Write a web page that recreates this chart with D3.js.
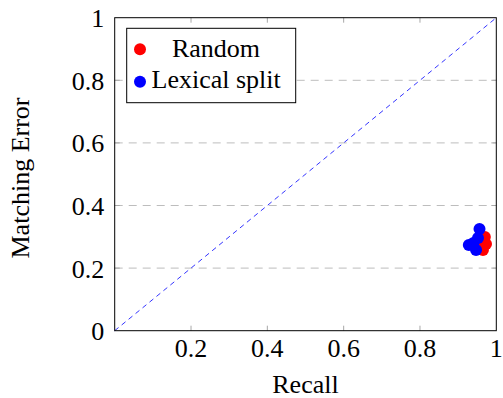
<!DOCTYPE html>
<html>
<head>
<meta charset="utf-8">
<script src="https://cdn.jsdelivr.net/npm/d3@7"></script>
<style>
  body { margin: 0; background: #fff; }
  svg text { font-family: "Liberation Serif", "DejaVu Serif", serif; fill: #000; }
</style>
</head>
<body>
<svg id="chart" width="503" height="398"></svg>
<script>
// data
const seriesNames = ['Random', 'Lexical split'];
const seriesColors = ['#ff0000', '#0000ff'];
const randomRecall = [0.970, 0.965, 0.960, 0.973];
const randomError = [0.299, 0.258, 0.277, 0.277];
const lexicalRecall = [0.956, 0.952, 0.928, 0.947, 0.940];
const lexicalError = [0.325, 0.296, 0.274, 0.258, 0.280];
const xTicks = [0.2, 0.4, 0.6, 0.8, 1];
const yTicks = [0, 0.2, 0.4, 0.6, 0.8, 1];
const gridTicks = [0.2, 0.4, 0.6, 0.8];

const plotLeft = 114.7, plotRight = 496.3, plotTop = 17.7, plotBottom = 330.7;
const fontSize = '26px';

const svg = d3.select('#chart');
const x = d3.scaleLinear().domain([0, 1]).range([plotLeft, plotRight]);
const y = d3.scaleLinear().domain([0, 1]).range([plotBottom, plotTop]);
const fmt = d => d === 0 ? '0' : d === 1 ? '1' : d3.format('.1f')(d);

// horizontal grid
svg.append('g')
    .selectAll('line')
    .data(gridTicks)
    .join('line')
    .attr('x1', plotLeft).attr('x2', plotRight)
    .attr('y1', d => y(d)).attr('y2', d => y(d))
    .attr('stroke', '#bdbdbd')
    .attr('stroke-width', 1)
    .attr('stroke-dasharray', '8,6');

// inside tick marks on all four sides
const tickLen = 5;
const tickG = svg.append('g').attr('stroke', '#a8a8a8').attr('stroke-width', 1);
gridTicks.forEach(t => {
    tickG.append('line').attr('x1', x(t)).attr('x2', x(t)).attr('y1', plotBottom).attr('y2', plotBottom - tickLen);
    tickG.append('line').attr('x1', x(t)).attr('x2', x(t)).attr('y1', plotTop).attr('y2', plotTop + tickLen);
    tickG.append('line').attr('y1', y(t)).attr('y2', y(t)).attr('x1', plotLeft).attr('x2', plotLeft + tickLen);
    tickG.append('line').attr('y1', y(t)).attr('y2', y(t)).attr('x1', plotRight).attr('x2', plotRight - tickLen);
});

// diagonal
svg.append('line')
    .attr('x1', x(0)).attr('y1', y(0))
    .attr('x2', x(1)).attr('y2', y(1))
    .attr('stroke', '#0000ff')
    .attr('stroke-width', 0.8)
    .attr('stroke-dasharray', '5,4');

// points
const series = [
    randomRecall.map((r, i) => [r, randomError[i]]),
    lexicalRecall.map((r, i) => [r, lexicalError[i]])
];
series.forEach((pts, si) => {
    svg.append('g')
        .selectAll('circle')
        .data(pts)
        .join('circle')
        .attr('cx', d => x(d[0]))
        .attr('cy', d => y(d[1]))
        .attr('r', 6)
        .attr('fill', seriesColors[si]);
});

// frame
svg.append('rect')
    .attr('x', plotLeft).attr('y', plotTop)
    .attr('width', plotRight - plotLeft).attr('height', plotBottom - plotTop)
    .attr('fill', 'none')
    .attr('stroke', '#000')
    .attr('stroke-width', 1);

// tick labels
svg.append('g')
    .selectAll('text')
    .data(xTicks)
    .join('text')
    .attr('x', d => x(d))
    .attr('y', plotBottom + 26)
    .attr('text-anchor', 'middle')
    .style('font-size', fontSize)
    .text(fmt);

svg.append('g')
    .selectAll('text')
    .data(yTicks)
    .join('text')
    .attr('x', plotLeft - 10.4)
    .attr('y', d => y(d) + 9.5)
    .attr('text-anchor', 'end')
    .style('font-size', fontSize)
    .text(fmt);

// axis titles
svg.append('text')
    .attr('x', (plotLeft + plotRight) / 2)
    .attr('y', 393)
    .attr('text-anchor', 'middle')
    .style('font-size', fontSize)
    .text('Recall');

svg.append('text')
    .attr('transform', 'translate(28.5,178) rotate(-90)')
    .attr('text-anchor', 'middle')
    .style('font-size', fontSize)
    .text('Matching Error');

// legend
const legend = svg.append('g');
legend.append('rect')
    .attr('x', 126.7).attr('y', 28.3)
    .attr('width', 169).attr('height', 74.4)
    .attr('fill', '#fff')
    .attr('stroke', '#000')
    .attr('stroke-width', 1);
seriesNames.forEach((name, i) => {
    const cy = i === 0 ? 49.3 : 81.7;
    legend.append('circle')
        .attr('cx', 140).attr('cy', cy).attr('r', 6)
        .attr('fill', seriesColors[i]);
    legend.append('text')
        .attr('x', i === 0 ? 216 : 151.5)
        .attr('y', i === 0 ? 56.7 : 88.3)
        .attr('text-anchor', i === 0 ? 'middle' : 'start')
        .style('font-size', fontSize)
        .text(name);
});
</script>
</body>
</html>
